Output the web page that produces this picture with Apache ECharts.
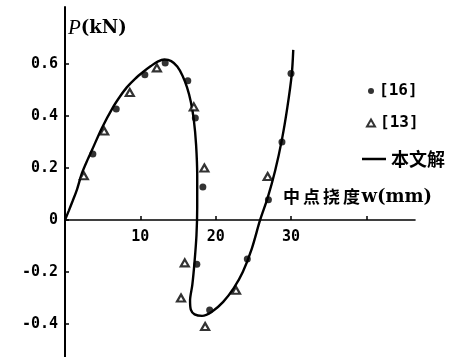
<!DOCTYPE html>
<html>
<head>
<meta charset="utf-8">
<script src="https://cdn.jsdelivr.net/npm/echarts@6/dist/echarts.min.js"></script>
<style>
  html, body { margin: 0; padding: 0; background: #fff; }
  #chart { width: 449px; height: 357px; }
</style>
</head>
<body>
<div id="chart"></div>
<script>
// Load P (kN) versus mid-point deflection w (mm)

// Analytical solution curve (w, P)
const solutionW = [0, 0.5, 1.0, 1.6, 2.25, 3.0, 3.6, 4.9, 6.4, 7.3, 8.2, 9.3, 10.4, 11.4, 12.3, 13.2, 14.1, 14.9, 15.6, 16.2, 16.7, 17.1, 17.4, 17.55, 17.55, 17.45, 17.2, 16.9, 16.6, 16.7, 17.2, 18.2, 19.5, 21.0, 22.4, 23.6, 24.8, 25.9, 26.9, 27.9, 28.8, 29.5, 30.1, 30.3];
const solutionP = [0, 0.035, 0.072, 0.118, 0.18, 0.232, 0.27, 0.354, 0.435, 0.475, 0.51, 0.543, 0.57, 0.592, 0.609, 0.617, 0.611, 0.59, 0.555, 0.51, 0.455, 0.385, 0.29, 0.17, 0.05, -0.06, -0.16, -0.25, -0.31, -0.345, -0.363, -0.369, -0.353, -0.315, -0.262, -0.2, -0.11, 0, 0.085, 0.19, 0.31, 0.43, 0.56, 0.654];

// Reference [16] test points
const ref16W = [3.7, 6.8, 10.6, 13.3, 16.3, 17.3, 18.3, 17.5, 19.2, 24.2, 27.0, 28.8, 30.0];
const ref16P = [0.254, 0.427, 0.558, 0.604, 0.535, 0.392, 0.127, -0.17, -0.346, -0.15, 0.078, 0.30, 0.563];

// Reference [13] test points
const ref13W = [2.5, 5.2, 8.6, 12.2, 17.1, 18.5, 15.9, 15.4, 18.6, 22.7, 26.9];
const ref13P = [0.17, 0.342, 0.49, 0.585, 0.435, 0.2, -0.165, -0.30, -0.41, -0.27, 0.167];

// Axis ticks and labels
const xTickValues = [10, 20, 30, 40];
const xLabelValues = [10, 20, 30];
const yTickValues = [-0.4, -0.2, 0, 0.2, 0.4, 0.6];
const yLabels = ['-0.4', '-0.2', '0', '0.2', '0.4', '0.6'];

const W_MAX = 46.46;
const P_MIN = -0.527;
const P_MAX = 0.819;

const zip = (a, b) => a.map((v, i) => [v, b[i]]);

const numFont = '"DejaVu Sans Mono", monospace';
const cjkFont = '"Noto Sans CJK SC", sans-serif';

const chart = echarts.init(document.getElementById('chart'), null, { renderer: 'canvas' });

chart.setOption({
  animation: false,
  backgroundColor: '#fff',
  grid: [
    // full plotting area, P axis running the whole height
    { left: 65, top: 7, right: 34, bottom: 0, containLabel: false, outerBoundsMode: 'none' },
    // upper half only: its bottom edge is the P = 0 line, where the w axis sits
    { left: 65, top: 7, right: 34, height: 213, containLabel: false, outerBoundsMode: 'none' }
  ],
  xAxis: [
    { gridIndex: 0, type: 'value', min: 0, max: W_MAX, show: false },
    {
      gridIndex: 1,
      type: 'value',
      min: 0,
      max: W_MAX,
      position: 'bottom',
      axisLine: { show: true, lineStyle: { color: '#000', width: 1.6 } },
      axisTick: { show: true, inside: true, length: 4, customValues: xTickValues, lineStyle: { color: '#000', width: 1.5 } },
      axisLabel: {
        show: true,
        customValues: xLabelValues,
        margin: 10,
        color: '#000',
        fontFamily: numFont,
        fontWeight: 'bold',
        fontSize: 15
      },
      splitLine: { show: false }
    }
  ],
  yAxis: [
    {
      gridIndex: 0,
      type: 'value',
      min: P_MIN,
      max: P_MAX,
      axisLine: { show: true, onZero: false, lineStyle: { color: '#000', width: 2 } },
      axisTick: { show: true, inside: true, length: 4, customValues: yTickValues, lineStyle: { color: '#000', width: 1.5 } },
      axisLabel: {
        show: true,
        customValues: yTickValues,
        margin: 7,
        color: '#000',
        fontFamily: numFont,
        fontWeight: 'bold',
        fontSize: 15,
        formatter: v => {
          const i = yTickValues.findIndex(t => Math.abs(t - v) < 1e-9);
          return i >= 0 ? yLabels[i] : '';
        }
      },
      splitLine: { show: false }
    },
    { gridIndex: 1, type: 'value', min: 0, max: P_MAX, show: false }
  ],
  legend: [
    {
      data: [{ name: '[16]', icon: 'circle' }],
      left: 363, top: 78,
      itemWidth: 6, itemHeight: 6,
      textStyle: { color: '#000', fontFamily: numFont, fontWeight: 'bold', fontSize: 16 }
    },
    {
      data: [{ name: '[13]', icon: 'triangle' }],
      left: 361, top: 110,
      itemWidth: 8, itemHeight: 7,
      textStyle: { color: '#000', fontFamily: numFont, fontWeight: 'bold', fontSize: 16 }
    },
    {
      data: [{ name: '本文解', icon: 'rect' }],
      left: 357, top: 145,
      itemWidth: 24, itemHeight: 2.5,
      textStyle: { color: '#000', fontFamily: cjkFont, fontWeight: 'bold', fontSize: 18 }
    }
  ],
  graphic: [
    {
      type: 'text',
      left: 68, top: 18,
      style: {
        text: '{i|P}{b|(kN)}',
        rich: {
          i: { fontFamily: '"Liberation Serif", serif', fontStyle: 'italic', fontSize: 21, fill: '#000' },
          b: { fontFamily: '"DejaVu Serif", serif', fontWeight: 'bold', fontSize: 18, fill: '#000' }
        }
      }
    },
    {
      type: 'text',
      left: 283, top: 188,
      style: {
        text: '{c|中}{c|点}{c|挠}{c|度}{e|w(mm)}',
        rich: {
          c: { fontFamily: cjkFont, fontWeight: 'bold', fontSize: 17, padding: [0, 1.5], fill: '#000' },
          e: { fontFamily: '"DejaVu Serif", serif', fontWeight: 'bold', fontSize: 18, fill: '#000' }
        }
      }
    }
  ],
  series: [
    {
      name: '本文解',
      type: 'line',
      xAxisIndex: 0,
      yAxisIndex: 0,
      data: zip(solutionW, solutionP),
      smooth: 0.3,
      showSymbol: false,
      symbol: 'none',
      lineStyle: { color: '#000', width: 2.4 },
      itemStyle: { color: '#000' },
      z: 2
    },
    {
      name: '[16]',
      type: 'scatter',
      xAxisIndex: 0,
      yAxisIndex: 0,
      data: zip(ref16W, ref16P),
      symbol: 'circle',
      symbolSize: 7,
      itemStyle: { color: '#000' },
      z: 3
    },
    {
      name: '[13]',
      type: 'scatter',
      xAxisIndex: 0,
      yAxisIndex: 0,
      data: zip(ref13W, ref13P),
      symbol: 'triangle',
      symbolSize: [8, 7],
      itemStyle: { color: '#fff', borderColor: '#000', borderWidth: 2.2 },
      z: 3
    }
  ]
});
</script>
</body>
</html>
